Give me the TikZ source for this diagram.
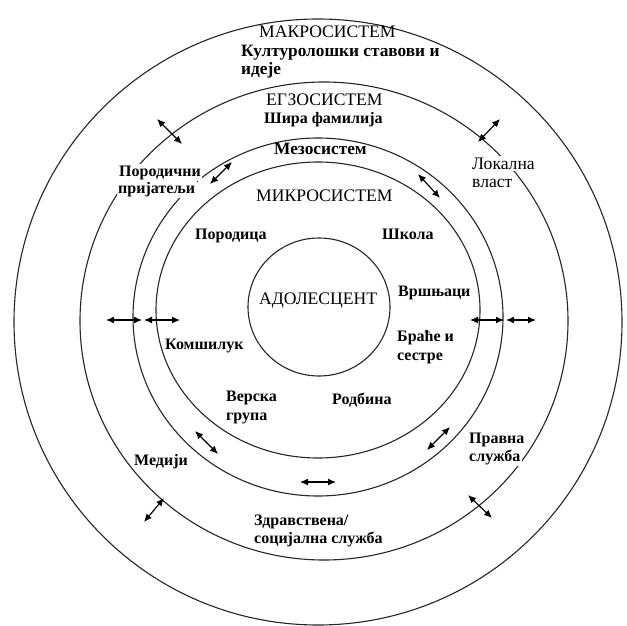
\documentclass[tikz,border=0pt]{standalone}
\usepackage{fontspec}
\setmainfont{Liberation Serif}
\usetikzlibrary{arrows.meta}
\begin{document}
\begin{tikzpicture}[x=1pt,y=-1pt,
  ring/.style={line width=1.1pt, draw=black!85},
  lbl/.style={anchor=base west, inner sep=0pt, font=\fontsize{16}{18}\selectfont\bfseries},
  lblw/.style={anchor=base west, inner sep=0pt, font=\fontsize{17.3}{19}\selectfont\bfseries},
  ttl/.style={anchor=base west, inner sep=0pt, font=\fontsize{17.6}{19}\selectfont},
  gap/.style={fill=white, inner sep=1.5pt},
  dbl/.style={line width=1.15pt, {Latex[length=8pt,width=7pt]}-{Latex[length=8pt,width=7pt]}}]

\useasboundingbox (0,0) rectangle (627,626);
\fill[white] (0,0) rectangle (627,626);

% rings
\draw[ring] (318,322) ellipse [x radius=304pt, y radius=303pt];
\draw[ring] (324,321) ellipse [x radius=244pt, y radius=239pt];
\draw[ring] (318,317) ellipse [x radius=185pt, y radius=179pt];
\draw[ring] (318,310) ellipse [x radius=162pt, y radius=148pt];
\draw[ring] (319,307) ellipse [x radius=71pt, y radius=69pt];

% labels
\node[ttl] (macro) at (259,38) {МАКРОСИСТЕМ};
\node[lblw] (macro2) at (241,56.5) {Културолошки ставови и};
\node[lblw] (macro3) at (241,74.5) {идеје};
\node[ttl] (exo) at (266,106) {ЕГЗОСИСТЕМ};
\node[lbl] (exo2) at (264,124) {Шира фамилија};
\node[lblw] (meso) at (274,154) {Мезосистем};
\node[lbl,gap] (pp1) at (117.5,176) {Породични};
\node[lbl,gap] (pp2) at (116.5,193) {пријатељи};
\node[ttl] (micro) at (256,201) {МИКРОСИСТЕМ};
\node[ttl,gap] (lv1) at (470.5,169.5) {Локална};
\node[ttl,gap] (lv2) at (470.5,187.5) {власт};
\node[lbl] (fam) at (195,239) {Породица};
\node[lbl] (school) at (382,239) {Школа};
\node[ttl] (adol) at (259,304) {АДОЛЕСЦЕНТ};
\node[lbl] (peers) at (398,296) {Вршњаци};
\node[lbl] (neigh) at (165,349) {Комшилук};
\node[lbl] (sib1) at (397,341) {Браће и};
\node[lbl] (sib2) at (397,360) {сестре};
\node[lbl] (rel1) at (226,401) {Верска};
\node[lbl] (rel2) at (226,420) {група};
\node[lbl] (kin) at (332,404) {Родбина};
\node[lbl] (media) at (134,465) {Медији};
\node[lbl,gap] (law1) at (467.5,443) {Правна};
\node[lbl,gap] (law2) at (467.5,461) {служба};
\node[lbl] (hs1) at (254,525) {Здравствена/};
\node[lbl] (hs2) at (254,543) {социјална служба};

% arrow end points
\coordinate (a1s) at (157,119); \coordinate (a1e) at (182,144);
\coordinate (a2s) at (232,162); \coordinate (a2e) at (210,184);
\coordinate (a3s) at (500,119); \coordinate (a3e) at (478,142);
\coordinate (a4s) at (418,174); \coordinate (a4e) at (440,198);
\coordinate (a5s) at (106,320); \coordinate (a5e) at (142,320);
\coordinate (a6s) at (144,320); \coordinate (a6e) at (180,320);
\coordinate (a7s) at (470,320); \coordinate (a7e) at (504,320);
\coordinate (a8s) at (506,320); \coordinate (a8e) at (536,320);
\coordinate (a9s) at (195,431); \coordinate (a9e) at (218,454);
\coordinate (a10s) at (450,427); \coordinate (a10e) at (427,450);
\coordinate (a11s) at (300,482); \coordinate (a11e) at (336,482);
\coordinate (a12s) at (164,498); \coordinate (a12e) at (144,522);
\coordinate (a13s) at (468,495); \coordinate (a13e) at (492,518);

\foreach \i in {1,...,13} \draw[dbl] (a\i s) -- (a\i e);
\end{tikzpicture}
\end{document}
